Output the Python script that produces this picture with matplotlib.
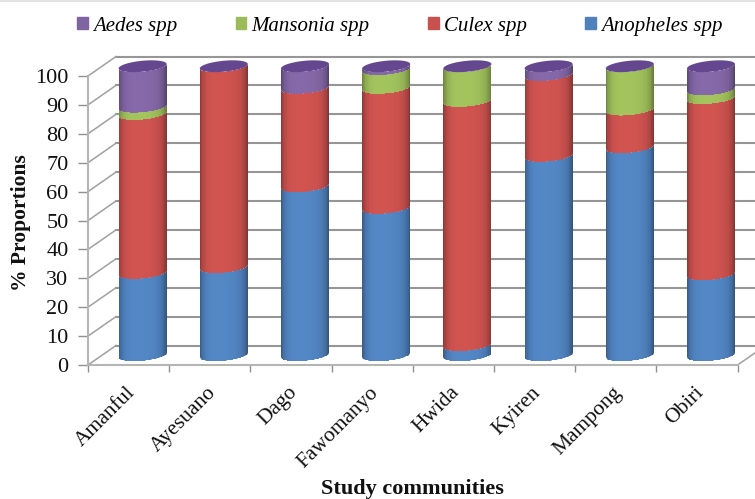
import numpy as np
import matplotlib
matplotlib.use("Agg")
import matplotlib.pyplot as plt
from matplotlib.patches import Patch
from matplotlib.transforms import Affine2D

communities = ["Amanful", "Ayesuano", "Dago", "Fawomanyo", "Hwida", "Kyiren", "Mampong", "Obiri"]
anopheles = [28.5, 30.5, 58.5, 51.0, 3.5, 69.0, 72.0, 28.0]
culex = [55.0, 69.5, 34.0, 41.5, 84.5, 28.0, 13.0, 61.0]
mansonia = [2.5, 0.0, 0.0, 6.5, 12.0, 0.0, 15.0, 3.0]
aedes = [14.0, 0.0, 7.5, 1.0, 0.0, 3.0, 0.0, 8.0]
yticks = list(range(0, 101, 10))

names = ["Anopheles spp", "Culex spp", "Mansonia spp", "Aedes spp"]
series = [anopheles, culex, mansonia, aedes]
colors = ["#4f81bd", "#c8504d", "#9bbb59", "#8064a2"]

W, H = 755, 499
FONT = "Liberation Serif"
plt.rcParams["font.family"] = ["DejaVu Serif"]
fig = plt.figure(figsize=(W / 100, H / 100), dpi=100)
ax = fig.add_axes([88 / W, 1 - 365 / H, (737.6 - 88) / W, (365 - 76) / H])
ax.set_xlim(0, 8)
ax.set_ylim(0, 100)
ax.patch.set_alpha(0)

DX, DY = 28 / 81.2, 19.5 / 2.89   # depth of the box in data units
GRID = "#969696"
for v in yticks:
    ax.plot([DX, 8 + DX], [v + DY, v + DY], color=GRID, lw=1.5, clip_on=False, zorder=1)
    ax.plot([0, DX], [v, v + DY], color="#a0a0a0", lw=1.1, clip_on=False, zorder=1)
ax.plot([8, 8 + DX], [0, DY], color="#a0a0a0", lw=1.1, clip_on=False, zorder=1)

R, EH, TILT = 24 / 81.2, 5.5 / 2.89, 2.2 / 2.89
u = np.linspace(-1, 1, 61)
um = (u[:-1] + u[1:]) / 2
shade = 1.05 - 0.08 * (um + 0.2) ** 2 - 0.30 * np.abs(um) ** 6
for i in range(len(communities)):
    xc = i + 0.5 + DX / 2
    x = xc + R * u
    base = 0.0
    for vals, col in zip(series, colors):
        top = base + vals[i]
        if vals[i] > 0:
            curve = TILT * u - EH * np.sqrt(1 - u ** 2) + DY / 2
            X = np.vstack([x, x])
            Y = np.vstack([base + curve, top + curve])
            rgb = np.array(matplotlib.colors.to_rgb(col))
            C = np.clip(np.outer(shade, rgb), 0, 1)[None, :, :]
            ax.pcolormesh(X, Y, C, shading="flat", clip_on=False, zorder=3, antialiased=True,
                          linewidth=0)
        base = top
    t = np.linspace(0, 2 * np.pi, 80)
    ax.fill(xc + R * np.cos(t), 100 + DY / 2 + TILT * np.cos(t) + EH * np.sin(t),
            color="#65478f", lw=0, clip_on=False, zorder=4)

for s in ["top", "right"]:
    ax.spines[s].set_visible(False)
for s in ["left", "bottom"]:
    ax.spines[s].set_color("#b5b5b5")
    ax.spines[s].set_linewidth(1.5)
    ax.spines[s].set_zorder(2)

ax.set_xticks(np.arange(0, 9))
ax.set_xticklabels([])
ax.set_xticks(np.arange(8) + 0.5, minor=True)
ax.set_xticklabels(communities, minor=True, rotation=45, ha="right", rotation_mode="anchor",
                   fontsize=15.5, family=FONT, color="#111111")
ax.tick_params(axis="x", which="major", length=5, color="#909090", width=1)
ax.tick_params(axis="x", which="minor", length=0, pad=13)
for lab in ax.get_xticklabels(minor=True):
    lab.set_transform(lab.get_transform() + Affine2D().translate(-3, 0))
ax.set_yticks(yticks)
ax.set_yticklabels([str(v) for v in yticks], fontsize=16, family=FONT, color="#111111")
ax.tick_params(axis="y", length=7, color="#909090", width=1, pad=7)

fig.text(21 / W, 1 - 223 / H, "% Proportions", rotation=90, ha="center", va="center",
         fontsize=15.5, fontweight="bold", family=FONT, color="#111111")
fig.text(412 / W, 1 - 489 / H, "Study communities", ha="center", va="center",
         fontsize=16, fontweight="bold", family=FONT, color="#111111")

handles = [Patch(color=c, label=n) for c, n in zip(colors[::-1], names[::-1])]
fig.legend(handles=handles, ncol=4, loc="center", bbox_to_anchor=(400 / W, 1 - 26 / H),
           frameon=False, prop={"family": FONT, "style": "italic", "size": 15},
           handlelength=0.52, handleheight=0.52, handletextpad=0.25, columnspacing=2.8)

fig.add_artist(plt.Line2D([0, 1], [1 - 0.5 / H, 1 - 0.5 / H], color="#dddddd", lw=1.2))
fig.savefig("out.png", dpi=100)
